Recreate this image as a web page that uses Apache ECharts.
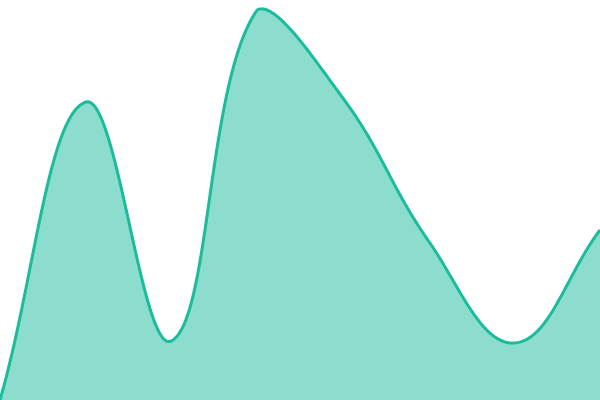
<!DOCTYPE html>
<html><head><meta charset="utf-8">
<script src="https://cdn.jsdelivr.net/npm/echarts@6/dist/echarts.min.js"></script>
<style>html,body{margin:0;padding:0;background:#fff}#c{width:600px;height:400px}</style>
</head><body><div id="c"></div>
<script>
const categories = ['1','2','3','4','5','6','7','8'];
const values = [0, 298, 59, 390, 302, 159, 57, 170];
const yMin = 0;
const yMax = 400;
const tension = 0.4;

function controlPoints(pts, area) {
  const n = pts.length, out = [];
  for (let i = 0; i < n; i++) {
    const cur = pts[i];
    const prev = i > 0 ? pts[i - 1] : cur;
    const next = i < n - 1 ? pts[i + 1] : cur;
    const d01 = Math.hypot(cur[0] - prev[0], cur[1] - prev[1]);
    const d12 = Math.hypot(next[0] - cur[0], next[1] - cur[1]);
    let s01 = d01 / (d01 + d12), s12 = d12 / (d01 + d12);
    if (isNaN(s01)) s01 = 0;
    if (isNaN(s12)) s12 = 0;
    const fa = tension * s01, fb = tension * s12;
    const cap = p => [Math.max(area.x, Math.min(area.x + area.width, p[0])),
                      Math.max(area.y, Math.min(area.y + area.height, p[1]))];
    out.push({
      prev: cap([cur[0] - fa * (next[0] - prev[0]), cur[1] - fa * (next[1] - prev[1])]),
      next: cap([cur[0] + fb * (next[0] - prev[0]), cur[1] + fb * (next[1] - prev[1])])
    });
  }
  return out;
}

function renderItem(params, api) {
  if (params.dataIndex !== 0) return null;
  const area = params.coordSys;
  const pts = values.map((v, i) => api.coord([i, v]));
  const cps = controlPoints(pts, area);
  const line = [pts[0].slice()];
  const steps = 48;
  for (let i = 0; i < pts.length - 1; i++) {
    const p0 = pts[i], c1 = cps[i].next, c2 = cps[i + 1].prev, p1 = pts[i + 1];
    for (let s = 1; s <= steps; s++) {
      const t = s / steps, u = 1 - t;
      const a = u * u * u, b = 3 * u * u * t, c = 3 * u * t * t, d = t * t * t;
      line.push([a * p0[0] + b * c1[0] + c * c2[0] + d * p1[0],
                 a * p0[1] + b * c1[1] + c * c2[1] + d * p1[1]]);
    }
  }
  const base = api.coord([0, yMin])[1];
  const fillPts = line.concat([[pts[pts.length - 1][0], base], [pts[0][0], base]]);
  return {
    type: 'group',
    children: [
      {type: 'polygon', shape: {points: fillPts}, style: {fill: 'rgba(26,188,156,0.5)', stroke: null}},
      {type: 'polyline', shape: {points: line}, style: {stroke: '#1abc9c', lineWidth: 3, fill: null, lineJoin: 'round'}}
    ]
  };
}

const chart = echarts.init(document.getElementById('c'));
chart.setOption({
  animation: false,
  grid: {left: 0, right: 0, top: 0, bottom: 0},
  xAxis: {type: 'category', data: categories, boundaryGap: false, show: false},
  yAxis: {type: 'value', min: yMin, max: yMax, show: false},
  series: [{
    type: 'custom', renderItem: renderItem, clip: true,
    data: values.map((v, i) => [i, v]),
    encode: {x: 0, y: 1}
  }]
});
</script></body></html>
